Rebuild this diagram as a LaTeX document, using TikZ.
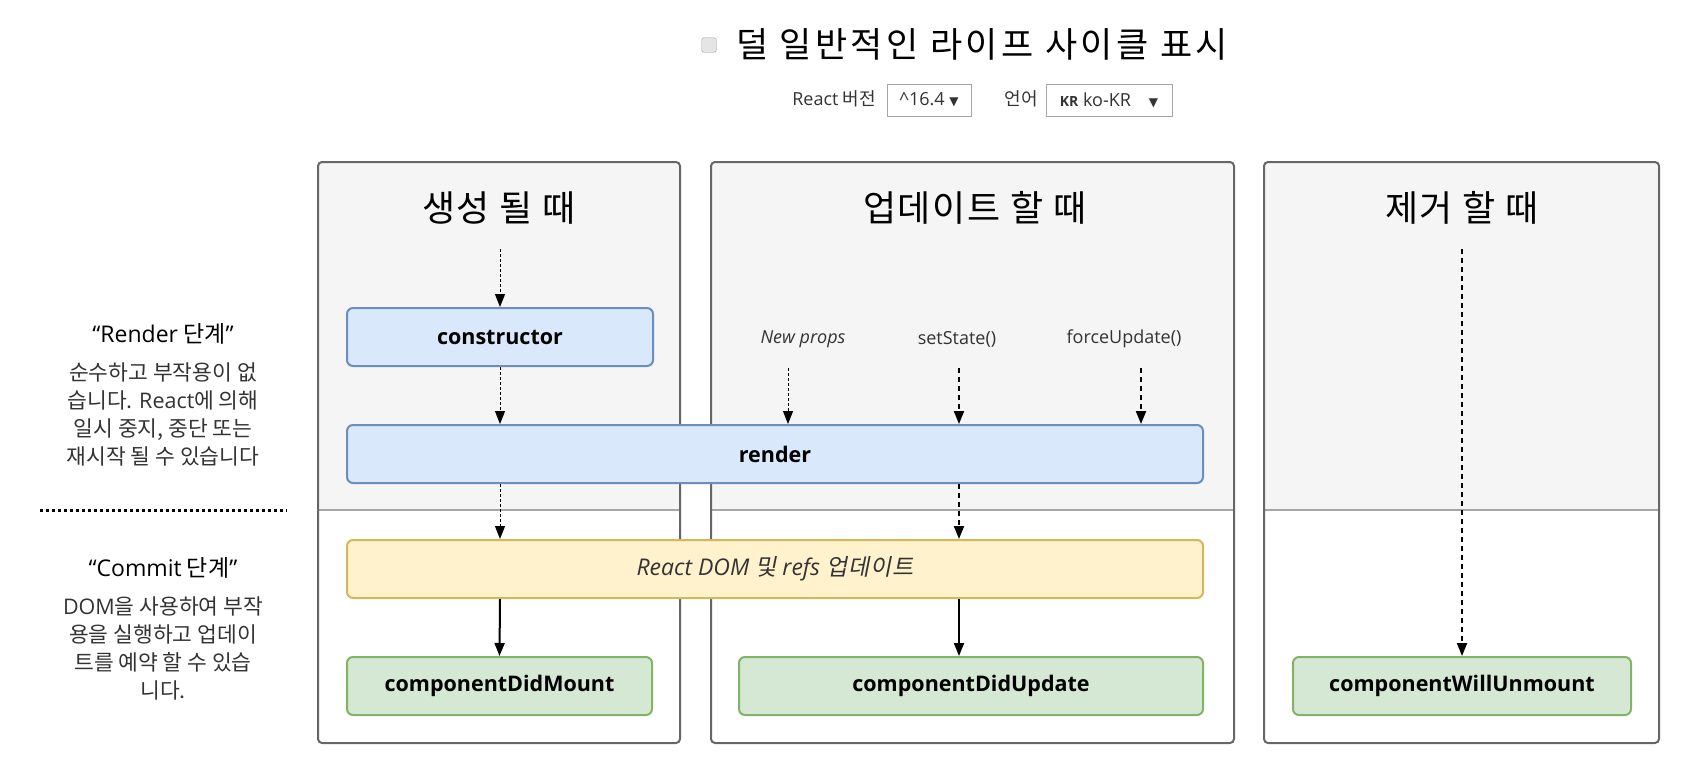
\documentclass[tikz,border=0pt]{standalone}
\usepackage{fontspec}
\setmainfont{Noto Sans CJK KR}
\newfontfamily\os{Open Sans}
\newfontfamily\krit[FakeSlant=0.2, LetterSpace=4]{Noto Sans CJK KR}
\newfontfamily\krwide[LetterSpace=10]{Noto Sans CJK KR}
\newfontfamily\krhead[LetterSpace=5]{Noto Sans CJK KR}
\newfontfamily\dv{DejaVu Sans}
\usetikzlibrary{arrows.meta}
\definecolor{colbg}{HTML}{F5F5F5}
\definecolor{colline}{HTML}{666666}
\definecolor{phaseline}{HTML}{A6A6A6}
\definecolor{blueFill}{HTML}{DAE8FC}
\definecolor{blueLine}{HTML}{6C8EBF}
\definecolor{yellowFill}{HTML}{FFF2CC}
\definecolor{yellowLine}{HTML}{D6B656}
\definecolor{greenFill}{HTML}{D5E8D4}
\definecolor{greenLine}{HTML}{82B366}
\definecolor{txtgray}{HTML}{333333}
\begin{document}
\begin{tikzpicture}[x=1pt,y=-1pt,
    lifebox/.style={rounded corners=6pt, line width=2pt, minimum height=58pt, inner sep=0pt,
        font=\os\bfseries\fontsize{21.5}{24}\selectfont},
    renderbox/.style={lifebox, fill=blueFill, draw=blueLine},
    commitbox/.style={lifebox, fill=yellowFill, draw=yellowLine, text=txtgray,
        font=\os\itshape\fontsize{23}{26}\selectfont},
    donebox/.style={lifebox, fill=greenFill, draw=greenLine},
    heading/.style={font=\krhead\fontsize{36}{40}\selectfont},
    trigger/.style={font=\os\fontsize{18}{22}\selectfont, text=txtgray},
    phasetitle/.style={font=\fontsize{23}{26}\selectfont},
    phasetext/.style={font=\fontsize{21.5}{28}\selectfont, align=center, text=txtgray},
    selectbox/.style={draw=phaseline, line width=1pt, fill=white, minimum height=32pt, inner sep=0pt,
        font=\os\fontsize{18}{22}\selectfont, text=txtgray},
    tipflow/.style={-{Triangle[width=10pt,length=13pt]}},
    thinflow/.style={tipflow, line width=1pt, dash pattern=on 3pt off 2pt},
    flow/.style={tipflow, line width=2pt, dash pattern=on 5pt off 4pt},
    solidflow/.style={tipflow, line width=2pt}
]
\useasboundingbox (0,0) rectangle (1687,777);

% header
\node[draw=gray!70, fill=gray!20, rounded corners=3pt, minimum size=15pt, inner sep=0pt] (chk) at (709,45) {};
\node[font=\krwide\fontsize{35}{40}\selectfont] (title) at (982,44) {덜 일반적인 라이프 사이클 표시};
\node[font=\fontsize{18}{22}\selectfont, text=txtgray] (verlbl) at (834,99) {{\os React} 버전};
\node[selectbox, minimum width=84pt] (versel) at (929,100) {\textasciicircum16.4 {\dv\fontsize{12}{12}\selectfont ▼}};
\node[font=\fontsize{18}{22}\selectfont, text=txtgray] (langlbl) at (1021,99) {언어};
\node[selectbox, minimum width=126pt] (langsel) at (1109,100)
    {{\bfseries\fontsize{14}{16}\selectfont KR} ko-KR\hspace{18pt}{\dv\fontsize{12}{12}\selectfont ▼}};

% columns
\fill[colbg, rounded corners=4pt] (318,510) -- (318,162) -- (680,162) -- (680,510) -- cycle;
\fill[colbg, rounded corners=4pt] (711,510) -- (711,162) -- (1234,162) -- (1234,510) -- cycle;
\fill[colbg, rounded corners=4pt] (1264,510) -- (1264,162) -- (1659,162) -- (1659,510) -- cycle;
\fill[colbg] (318,490) rectangle (680,510);
\fill[colbg] (711,490) rectangle (1234,510);
\fill[colbg] (1264,490) rectangle (1659,510);
\draw[phaseline, line width=2pt] (318,510) -- (680,510);
\draw[phaseline, line width=2pt] (711,510) -- (1234,510);
\draw[phaseline, line width=2pt] (1264,510) -- (1659,510);
\draw[colline, line width=2pt, rounded corners=4pt] (318,162) rectangle (680,743);
\draw[colline, line width=2pt, rounded corners=4pt] (711,162) rectangle (1234,743);
\draw[colline, line width=2pt, rounded corners=4pt] (1264,162) rectangle (1659,743);

\node[heading] (hmount) at (499,208) {생성 될 때};
\node[heading] (hupdate) at (975,208) {업데이트 할 때};
\node[heading] (hunmount) at (1462,208) {제거 할 때};

% phases on the left
\node[phasetitle] (rendertitle) at (163,334) {{\os “Render} 단계{\os ”}};
\node[phasetext] (rendertext) at (163,414) {순수하고 부작용이 없\\습니다. {\os React}에 의해\\일시 중지, 중단 또는\\재시작 될 수 있습니다};
\draw[line width=3pt, dash pattern=on 3pt off 3pt] (40,510) -- (287,510);
\node[phasetitle] (committitle) at (163,568) {{\os “Commit} 단계{\os ”}};
\node[phasetext] (committext) at (163,648) {{\os DOM}을 사용하여 부작\\용을 실행하고 업데이\\트를 예약 할 수 있습\\니다.};

% lifecycle methods
\node[renderbox, minimum width=306pt] (constructor) at (500,337) {constructor};
\node[renderbox, minimum width=856pt] (render) at (775,454) {render};
\node[commitbox, minimum width=856pt] (domupdate) at (775,569) {React DOM {\krit 및} refs {\krit 업데이트}};
\node[donebox, minimum width=305pt] (didmount) at (499.5,686) {componentDidMount};
\node[donebox, minimum width=464pt] (didupdate) at (971,686) {componentDidUpdate};
\node[donebox, minimum width=338pt] (willunmount) at (1462,686) {componentWillUnmount};

\node[trigger, font=\os\itshape\fontsize{18}{22}\selectfont] (newprops) at (803,339) {New props};
\node[trigger] (setstate) at (957,339) {setState()};
\node[trigger] (forceupdate) at (1124,339) {forceUpdate()};

\coordinate (mountin) at (500,249);
\coordinate (propsin) at (788,368);
\coordinate (statein) at (959,368);
\coordinate (forcein) at (1141,368);
\coordinate (unmountin) at (1462,249);

% arrows
\draw[thinflow] (mountin) -- (constructor.north);
\draw[thinflow] (constructor.south) -- (constructor.south |- render.north);
\draw[thinflow] (constructor.south |- render.south) -- (constructor.south |- domupdate.north);
\draw[solidflow] (constructor.south |- domupdate.south) -- (didmount.north);
\draw[thinflow] (propsin) -- (propsin |- render.north);
\draw[flow] (statein) -- (statein |- render.north);
\draw[flow] (forcein) -- (forcein |- render.north);
\draw[flow] (statein |- render.south) -- (statein |- domupdate.north);
\draw[solidflow] (statein |- domupdate.south) -- (statein |- didupdate.north);
\draw[flow] (unmountin) -- (unmountin |- willunmount.north);

\end{tikzpicture}
\end{document}
